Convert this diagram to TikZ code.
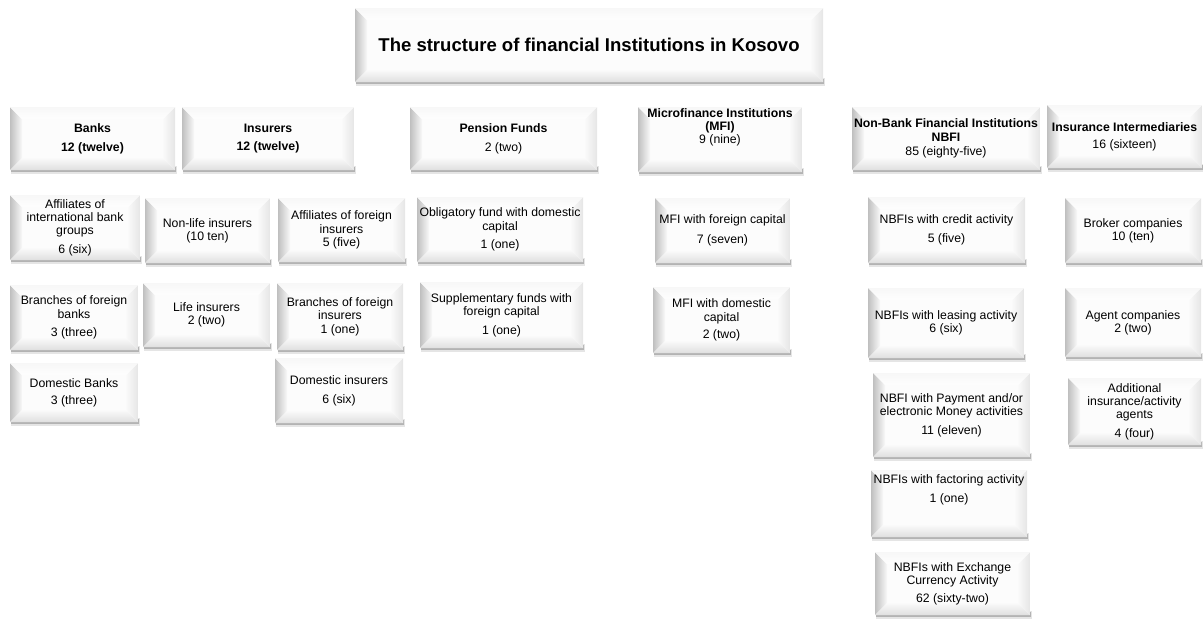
\documentclass[tikz,border=0pt]{standalone}
\usepackage{fontspec}
\setmainfont{Liberation Sans}

\def\bev{9pt}
\tikzset{
  instbox/.style={fill=gray!2, align=center, inner sep=1pt,
    font=\fontsize{9.2}{10}\selectfont,
    path picture={
      \coordinate (nw) at (path picture bounding box.north west);
      \coordinate (ne) at (path picture bounding box.north east);
      \coordinate (sw) at (path picture bounding box.south west);
      \coordinate (se) at (path picture bounding box.south east);
      % bevel: left, bottom, right, top
      \shade[left color=gray!50, right color=gray!5]
        (nw) -- (sw) -- ([shift={(\bev,\bev)}]sw) -- ([shift={(\bev,-\bev)}]nw) -- cycle;
      \shade[top color=gray!4, bottom color=gray!25]
        (sw) -- (se) -- ([shift={(-\bev,\bev)}]se) -- ([shift={(\bev,\bev)}]sw) -- cycle;
      \shade[left color=gray!4, right color=gray!20]
        (se) -- (ne) -- ([shift={(-\bev,-\bev)}]ne) -- ([shift={(-\bev,\bev)}]se) -- cycle;
      \shade[top color=gray!6, bottom color=gray!1]
        (ne) -- (nw) -- ([shift={(\bev,-\bev)}]nw) -- ([shift={(-\bev,-\bev)}]ne) -- cycle;
    }},
  titlebox/.style={instbox, font=\fontsize{13.9}{16}\selectfont\bfseries},
  boxshadow/.style={fill=black, opacity=0.22},
  softshadow/.style={fill=black, opacity=0.1},
}
% shadow strip under a box: left, right, bottom
\newcommand{\undershadow}[3]{%
  \fill[softshadow] ({#1+1},{#3-4}) rectangle ({#2+2},{#3+3.5});
  \fill[boxshadow] ({#1+1},{#3-3}) rectangle ({#2+1},{#3+2});
}

\begin{document}
\begin{tikzpicture}[x=0.75pt, y=-0.75pt]
  \useasboundingbox (0,0) rectangle (1203,619);

  % Title
  \undershadow{355}{823}{82}
  \node[titlebox, minimum width={(823-355)*0.75pt}, minimum height={(82-8)*0.75pt}]
    (title) at ({(355+823)/2},{(8+82)/2})
    {The structure of financial Institutions in Kosovo};

  % Sector headers: name / left / top / right / bottom / text
  \foreach \n/\l/\t/\r/\b/\txt in {
      banks/10/107/175/170/{\textbf{Banks}\\[4pt]\textbf{12 (twelve)}},
      insurers/182/107/354/170/{\textbf{Insurers}\\[4pt]\textbf{12 (twelve)}},
      pension/410/107/597/170/{\textbf{Pension Funds}\\[4pt]2 (two)},
      mfi/638/107/802/172/{\textbf{Microfinance Institutions}\\\textbf{(MFI)}\\9 (nine)\\[10pt]\mbox{}},
      nbfi/852/107/1040/170/{\textbf{Non-Bank Financial Institutions}\\\textbf{NBFI}\\[1pt]85 (eighty-five)},
      interm/1047/105/1202/168/{\textbf{Insurance Intermediaries}\\[3pt]16 (sixteen)}}{
    \undershadow{\l}{\r}{\b}
    \node[instbox, minimum width={(\r-\l)*0.75pt}, minimum height={(\b-\t)*0.75pt}]
      (\n) at ({(\l+\r)/2},{(\t+\b)/2}) {\txt};
  }

  % Sub-categories
  \foreach \n/\l/\t/\r/\b/\txt in {
      % banks
      bkAff/10/195/140/260/{Affiliates of\\international bank\\groups\\[4pt]6 (six)},
      bkBr/10/285/138/350/{Branches of foreign\\banks\\[4pt]3 (three)},
      bkDom/10/363/138/422/{Domestic Banks\\[3pt]3 (three)},
      % insurers
      insNl/145/198/270/263/{Non-life insurers\\(10 ten)},
      insLf/143/283/270/347/{Life insurers\\2 (two)},
      insAff/278/198/405/262/{Affiliates of foreign\\insurers\\5 (five)},
      insBr/277/283/403/350/{Branches of foreign\\insurers\\1 (one)},
      insDom/275/358/403/423/{Domestic insurers\\[4pt]6 (six)},
      % pension funds
      penObl/417/197/583/262/{Obligatory fund with domestic\\capital\\[4pt]1 (one)},
      penSup/420/282/583/348/{Supplementary funds with\\foreign capital\\[4pt]1 (one)},
      % microfinance
      mfiFor/655/198/790/263/{MFI with foreign capital\\[5pt]7 (seven)},
      mfiDom/653/287/790/353/{MFI with domestic\\capital\\[3pt]2 (two)},
      % non-bank
      nbCred/868/197/1025/263/{NBFIs with credit activity\\[4pt]5 (five)},
      nbLeas/868/288/1024/358/{NBFIs with leasing activity\\6 (six)},
      nbPay/873/373/1030/457/{NBFI with Payment and/or\\electronic Money activities\\[4pt]11 (eleven)},
      nbFact/871/470/1027/537/{NBFIs with factoring activity\\[4pt]1 (one)\\[12pt]\mbox{}},
      nbExch/875/552/1030/615/{NBFIs with Exchange\\Currency Activity\\[3pt]62 (sixty-two)},
      % intermediaries
      imBrok/1065/198/1201/263/{Broker companies\\10 (ten)},
      imAgent/1065/288/1201/357/{Agent companies\\2 (two)},
      imAdd/1068/378/1201/445/{Additional\\insurance/activity\\agents\\[4pt]4 (four)}}{
    \undershadow{\l}{\r}{\b}
    \node[instbox, minimum width={(\r-\l)*0.75pt}, minimum height={(\b-\t)*0.75pt}]
      (\n) at ({(\l+\r)/2},{(\t+\b)/2}) {\txt};
  }
\end{tikzpicture}
\end{document}
